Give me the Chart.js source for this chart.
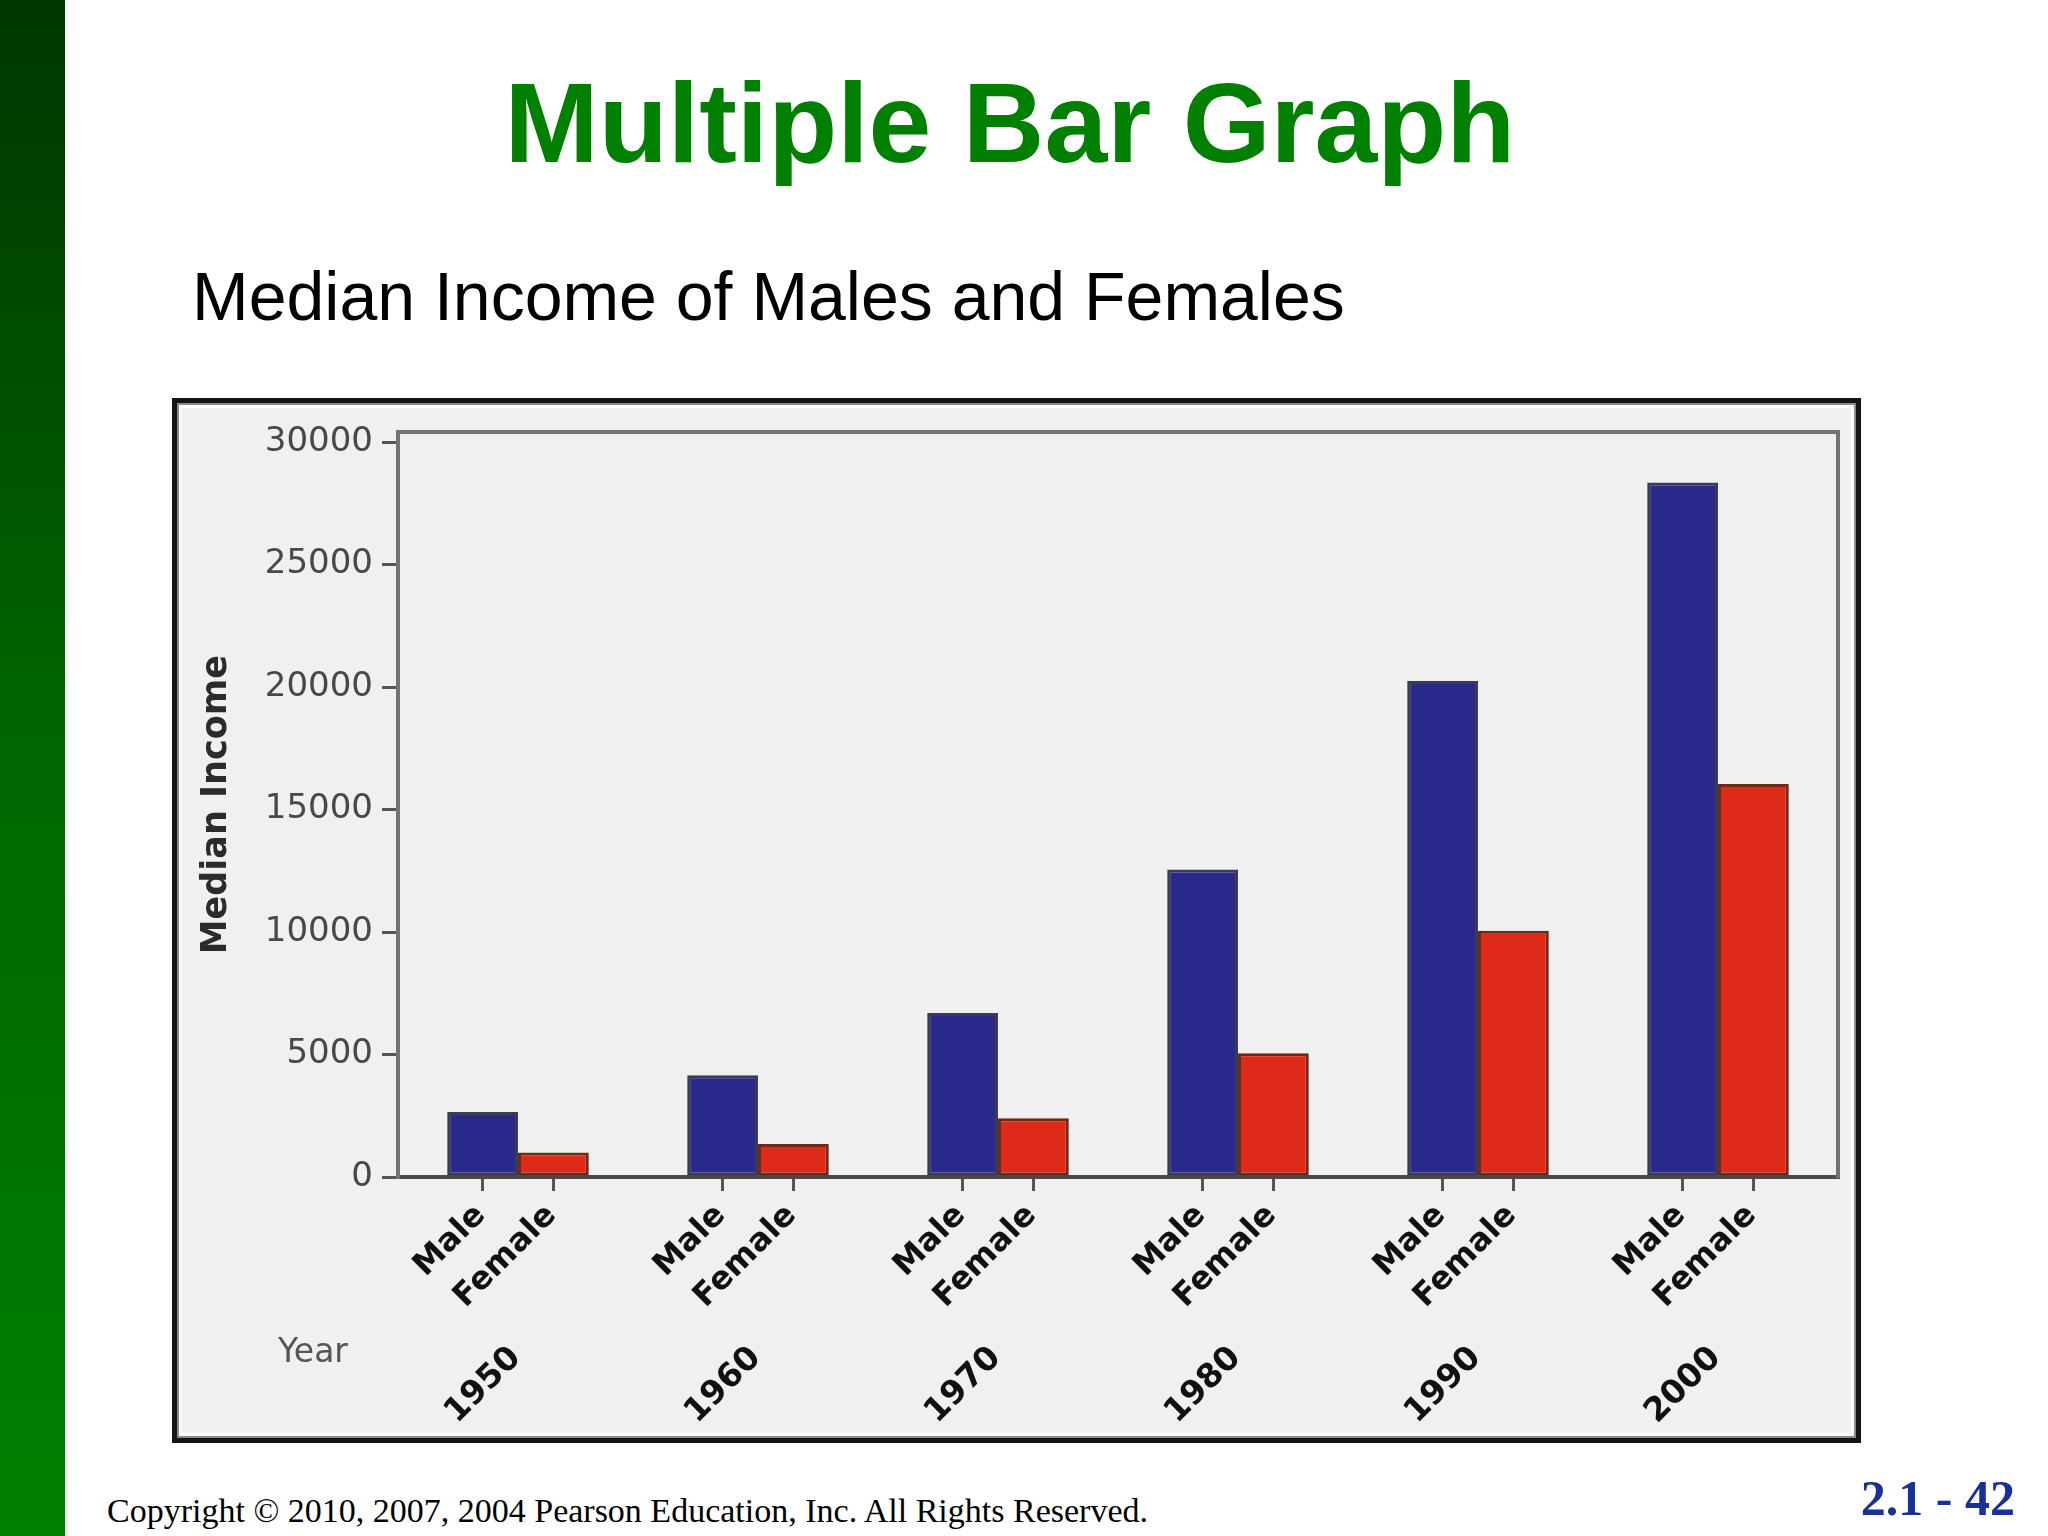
<!DOCTYPE html>
<html><head><meta charset="utf-8">
<script src="https://cdn.jsdelivr.net/npm/chart.js@4.4.0/dist/chart.umd.min.js"></script>
<style>
html,body{margin:0;padding:0;background:#fff;width:2048px;height:1536px;overflow:hidden;position:relative}
#bar{position:absolute;left:0;top:0;width:65px;height:1536px;background:linear-gradient(#003600,#006400 45%,#008000)}
.t{position:absolute;white-space:nowrap;line-height:1}
#title{left:0;width:2020px;top:67px;text-align:center;font:bold 113px "Liberation Sans",Arial,sans-serif;line-height:1;color:#008000}
#sub{left:192px;top:262px;font:68px "Liberation Sans",Arial,sans-serif;line-height:1;color:#000}
#copy{left:107px;top:1494px;font:34px "Liberation Serif","Times New Roman",serif;line-height:1;color:#000}
#page{right:33px;top:1473px;font:bold 50px "Liberation Serif","Times New Roman",serif;line-height:1;color:#17309a}
#frame{position:absolute;left:172px;top:398px;width:1689px;height:1045px;box-sizing:border-box;border:5px solid #141414;background:#f0f0f0;box-shadow:inset 0 0 0 2px #8a8a8a, inset 0 0 0 5px #fbfbfb}
#c{position:absolute;left:0;top:0;width:1679px;height:1035px}
</style></head>
<body>
<div id="bar"></div>
<div id="title" class="t">Multiple Bar Graph</div>
<div id="sub" class="t">Median Income of Males and Females</div>
<div id="frame"><canvas id="c" width="1679" height="1035"></canvas></div>
<div id="copy" class="t">Copyright © 2010, 2007, 2004 Pearson Education, Inc. All Rights Reserved.</div>
<div id="page" class="t">2.1 - 42</div>
<script>
const years = ['1950', '1960', '1970', '1980', '1990', '2000'];
const sexes = ['Male', 'Female'];
const maleIncome = [2650, 4150, 6700, 12550, 20250, 28350];
const femaleIncome = [1000, 1350, 2400, 5050, 10050, 16050];
const yTicks = [0, 5000, 10000, 15000, 20000, 25000, 30000];
const yMax = 30400;
const yTitle = 'Median Income';
const xTitle = 'Year';

const CAT_PCT = 0.59;
// tick positions of the Male/Female axis = centres of the grouped bars
const sexTickPos = [];
years.forEach((y, g) => sexes.forEach((s, k) => sexTickPos.push(g + 0.5 + (k - 0.5) * CAT_PCT / 2)));

const FONT = '"DejaVu Sans", Verdana, sans-serif';

const yearLabelPlugin = {
  id: 'yearLabel',
  afterDraw(chart) {
    const ctx = chart.ctx, xs = chart.scales.x;
    ctx.save();
    ctx.font = '33px ' + FONT;
    ctx.fillStyle = '#555';
    ctx.textAlign = 'center';
    ctx.textBaseline = 'middle';
    ctx.fillText(xTitle, chart.chartArea.left - 85, xs.top + 26);
    ctx.restore();
  }
};

new Chart(document.getElementById('c'), {
  type: 'bar',
  data: {
    labels: years,
    datasets: [
      { label: sexes[0], data: maleIncome, backgroundColor: '#28298a', borderColor: '#3b3b52', borderWidth: 3, borderSkipped: false },
      { label: sexes[1], data: femaleIncome, backgroundColor: '#df2a19', borderColor: '#6a2c16', borderWidth: 3, borderSkipped: false }
    ]
  },
  options: {
    responsive: false,
    devicePixelRatio: 1,
    animation: false,
    layout: { padding: { top: 28, right: 18, left: 0, bottom: 0 } },
    plugins: { legend: { display: false }, tooltip: { enabled: false } },
    datasets: { bar: { categoryPercentage: CAT_PCT, barPercentage: 1.0 } },
    scales: {
      x: {
        type: 'category', position: 'bottom', weight: 1, offset: true,
        grid: { display: false, drawTicks: false },
        border: { display: false },
        ticks: { autoSkip: false, minRotation: 45, maxRotation: 45, padding: 12, labelOffset: -2,
                 color: '#111', font: { family: FONT, size: 33, weight: 'bold' } },
        afterFit(s) { s.height = 111; }
      },
      x2: {
        type: 'linear', position: 'bottom', weight: 0, min: 0, max: years.length, offset: false,
        afterBuildTicks(s) { s.ticks = sexTickPos.map(v => ({ value: v })); },
        grid: { display: true, offset: false, drawOnChartArea: false, drawTicks: true, tickLength: 14, color: '#555', lineWidth: 3 },
        border: { display: true, color: '#4a4a4a', width: 4 },
        ticks: { autoSkip: false, minRotation: 45, maxRotation: 45, padding: 6, labelOffset: -2,
                 color: '#111', font: { family: FONT, size: 32, weight: 'bold' },
                 callback: (v, i) => sexes[i % sexes.length] },
        afterFit(s) { s.height = 150; }
      },
      x3: {
        type: 'linear', position: 'top', min: 0, max: 1, offset: false,
        grid: { display: false, offset: false }, ticks: { display: false },
        border: { display: true, color: '#737373', width: 4 },
        afterFit(s) { s.height = 0; }
      },
      y: {
        type: 'linear', position: 'left', min: 0, max: yMax,
        afterBuildTicks(s) { s.ticks = yTicks.map(v => ({ value: v })); },
        grid: { display: true, drawOnChartArea: false, drawTicks: true, tickLength: 16, color: '#555', lineWidth: 3 },
        border: { display: true, color: '#737373', width: 4 },
        ticks: { padding: 9, color: '#484848', font: { family: FONT, size: 34 }, callback: v => String(v) },
        title: { display: true, text: yTitle, color: '#2b2b2b', font: { family: FONT, size: 35, weight: 'bold' }, padding: { top: 19, bottom: 0 } },
        afterFit(s) { s.width = 221; }
      },
      y2: {
        type: 'linear', position: 'right', min: 0, max: 1,
        grid: { display: false }, ticks: { display: false },
        border: { display: true, color: '#737373', width: 4 },
        afterFit(s) { s.width = 0; }
      }
    }
  },
  plugins: [yearLabelPlugin]
});
</script>
</body></html>
